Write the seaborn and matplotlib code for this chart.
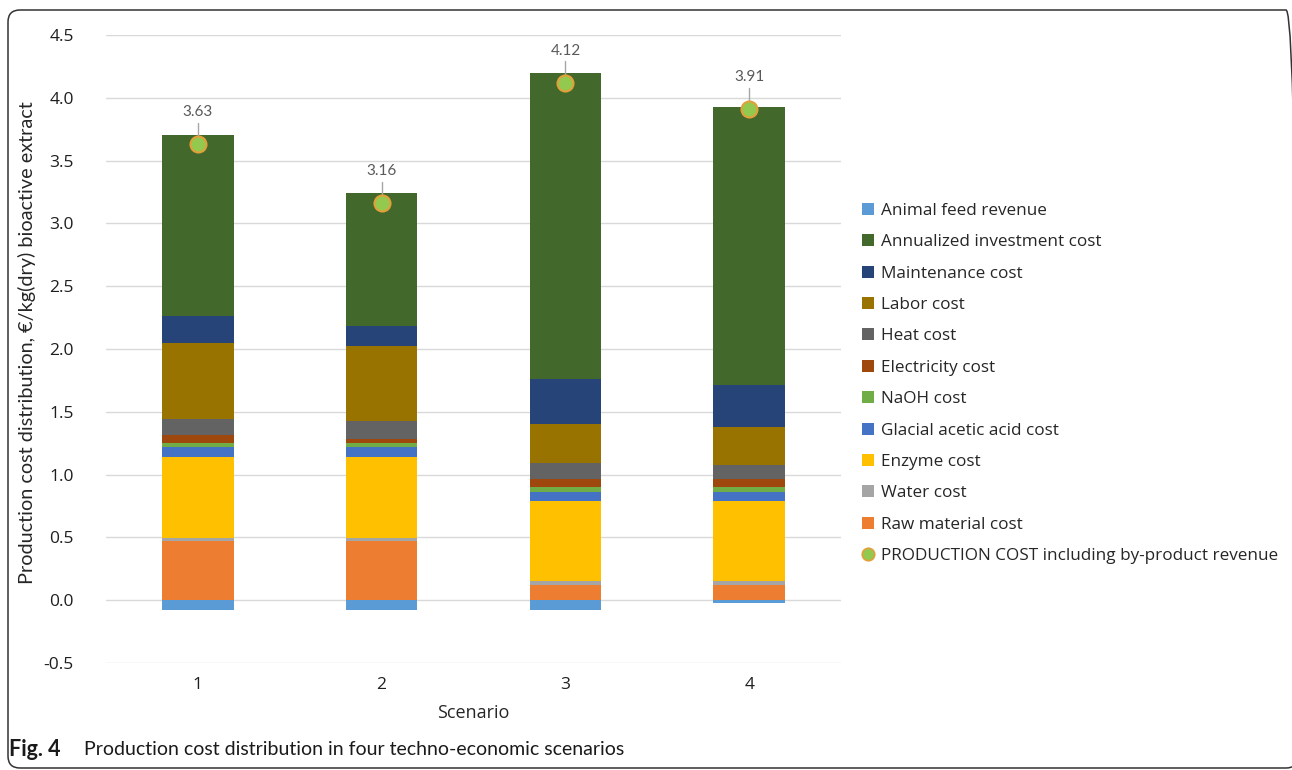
import matplotlib
matplotlib.use("Agg")
import matplotlib.pyplot as plt
from matplotlib.patches import Patch, FancyBboxPatch
from matplotlib.lines import Line2D
import seaborn as sns
import pandas as pd

# Cost components per scenario (EUR / kg dry bioactive extract)
scenarios = ["1", "2", "3", "4"]
raw_material = [0.47, 0.47, 0.12, 0.12]
water = [0.025, 0.025, 0.03, 0.03]
enzyme = [0.645, 0.645, 0.64, 0.64]
acetic_acid = [0.08, 0.08, 0.075, 0.075]
naoh = [0.03, 0.035, 0.04, 0.04]
electricity = [0.065, 0.03, 0.06, 0.06]
heat = [0.13, 0.14, 0.13, 0.115]
labor = [0.60, 0.60, 0.31, 0.30]
maintenance = [0.215, 0.155, 0.36, 0.335]
investment = [1.445, 1.06, 2.435, 2.215]
feed_revenue = [-0.08, -0.08, -0.08, -0.02]
production_cost = [3.63, 3.16, 4.12, 3.91]

series_names = [
    "Raw material cost", "Water cost", "Enzyme cost", "Glacial acetic acid cost",
    "NaOH cost", "Electricity cost", "Heat cost", "Labor cost",
    "Maintenance cost", "Annualized investment cost",
]
series_values = [
    raw_material, water, enzyme, acetic_acid, naoh, electricity,
    heat, labor, maintenance, investment,
]
colors = {
    "Animal feed revenue": "#5B9BD5",
    "Annualized investment cost": "#43682B",
    "Maintenance cost": "#264478",
    "Labor cost": "#997300",
    "Heat cost": "#636363",
    "Electricity cost": "#9E480E",
    "NaOH cost": "#70AD47",
    "Glacial acetic acid cost": "#4472C4",
    "Enzyme cost": "#FFC000",
    "Water cost": "#A5A5A5",
    "Raw material cost": "#ED7D31",
}
legend_order = [
    "Animal feed revenue", "Annualized investment cost", "Maintenance cost",
    "Labor cost", "Heat cost", "Electricity cost", "NaOH cost",
    "Glacial acetic acid cost", "Enzyme cost", "Water cost", "Raw material cost",
]

sns.set_theme(style="white")
plt.rcParams["font.family"] = ["Open Sans", "DejaVu Sans"]

fig = plt.figure(figsize=(12.92, 7.70), dpi=100)
ax = fig.add_axes([0.082, 0.139, 0.569, 0.8155])

bar_w = 0.39

# Negative by-product revenue below zero
sns.barplot(x=scenarios, y=feed_revenue, order=scenarios, color=colors["Animal feed revenue"],
            width=bar_w, errorbar=None, saturation=1, linewidth=0, ax=ax)

# Stacked positive cost components
bottom = [0.0] * len(scenarios)
for name, vals in zip(series_names, series_values):
    sns.barplot(x=scenarios, y=vals, order=scenarios, color=colors[name], width=bar_w,
                errorbar=None, saturation=1, linewidth=0, bottom=bottom, ax=ax)
    bottom = [b + v for b, v in zip(bottom, vals)]

# Net production cost markers
sns.stripplot(x=scenarios, y=production_cost, order=scenarios, jitter=False,
              color="#92C94E", edgecolor="#E3A03A", linewidth=1.5, size=11.5,
              zorder=5, ax=ax)

for i, v in enumerate(production_cost):
    ax.plot([i, i], [v + 0.05, v + 0.17], color="#A6A6A6", lw=1, zorder=4)
    ax.text(i, v + 0.255, f"{v:.2f}", ha="center", va="center", fontsize=11,
            color="#595959", family=["Lato", "DejaVu Sans"])

ax.set_ylim(-0.5, 4.5)
ax.set_xlim(-0.5, 3.5)
yticks = [-0.5, 0, 0.5, 1.0, 1.5, 2.0, 2.5, 3.0, 3.5, 4.0, 4.5]
ax.set_yticks(yticks)
ax.set_yticklabels([f"{t:.1f}" for t in yticks])
ax.yaxis.grid(True, color="#D9D9D9", lw=1)
ax.set_axisbelow(True)
for s in ax.spines.values():
    s.set_visible(False)
ax.tick_params(axis="both", length=0, labelsize=12.5, colors="#1f1f1f", pad=10)
ax.tick_params(axis="y", pad=23)
ax.set_xlabel("Scenario", fontsize=13, color="#262626", labelpad=8)
ax.set_ylabel("Production cost distribution, €/kg(dry) bioactive extract", fontsize=14.3,
              color="#262626", family=["Lato", "DejaVu Sans"], labelpad=0)
ax.yaxis.set_label_coords(-0.095, 0.51)

handles = [Patch(facecolor=colors[n], edgecolor="none", label=n) for n in legend_order]
handles.append(Line2D([], [], marker="o", linestyle="none", markersize=9,
                      markerfacecolor="#92C94E", markeredgecolor="#E3A03A",
                      markeredgewidth=1.2,
                      label="PRODUCTION COST including by-product revenue"))
fig.legend(handles=handles, loc="center left", bbox_to_anchor=(0.655, 0.502),
           frameon=False, fontsize=12.3, handlelength=0.7, handleheight=0.7,
           handletextpad=0.45, labelspacing=0.9, labelcolor="#262626")

# Caption
fig.text(0.007, 0.026, "Fig. 4", fontsize=15.5, fontweight="bold", color="#1a1a1a",
         family=["Lato", "DejaVu Sans"], va="center")
fig.text(0.065, 0.026, "Production cost distribution in four techno-economic scenarios",
         fontsize=14, color="#1a1a1a", family=["Lato", "DejaVu Sans"], va="center")

# Rounded frame around the figure
frame = FancyBboxPatch((8, 2), 1290, 758, boxstyle="round,pad=0,rounding_size=12",
                       transform=None, fill=False, edgecolor="#333333", lw=1.1)
fig.add_artist(frame)

fig.savefig("out.png", dpi=100)
